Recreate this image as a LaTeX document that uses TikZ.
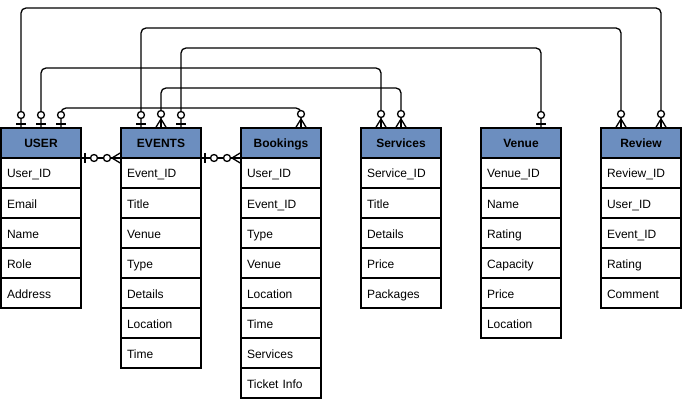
\documentclass[tikz,border=0pt]{standalone}
\usepackage{fontspec}
\setmainfont{Liberation Sans}
\usetikzlibrary{calc}
\definecolor{headblue}{RGB}{108,142,191}

\tikzset{
  head/.style={draw, line width=1.6pt, fill=headblue, minimum width=80pt,
    minimum height=30pt, outer sep=0pt, text height=10pt, text depth=0pt,
    font=\fontsize{12}{14}\selectfont\bfseries},
  field/.style={draw, line width=1.6pt, fill=white, text width=68pt,
    inner xsep=6pt, minimum height=30pt, outer sep=0pt, align=left,
    text height=10pt, text depth=0pt, font=\fontsize{12}{14}\selectfont},
  link/.style={line width=1.3pt, rounded corners=5pt},
  % markers point outwards (up) from the table edge
  zeroone/.pic={
    \draw[line width=1.3pt] (-5,-4) -- (5,-4);
    \draw[line width=1.3pt, fill=white] (0,-13) circle (3.5pt);
  },
  zeromany/.pic={
    \draw[line width=1.3pt] (-5.5,0) -- (0,-9) -- (5.5,0);
    \draw[line width=1.3pt] (0,0) -- (0,-9);
    \draw[line width=1.3pt, fill=white] (0,-14) circle (3.5pt);
  }
}

\begin{document}
\begin{tikzpicture}[x=1pt, y=-1pt]
\useasboundingbox (0,0) rectangle (683,401);

% USER
\node[head] (user) at (41,143) {USER};
\node[field] (user1) at (41,173) {User\_ID};
\node[field] (user2) at (41,203) {Email};
\node[field] (user3) at (41,233) {Name};
\node[field] (user4) at (41,263) {Role};
\node[field] (user5) at (41,293) {Address};

% EVENTS
\node[head] (events) at (161,143) {EVENTS};
\node[field] (events1) at (161,173) {Event\_ID};
\node[field] (events2) at (161,203) {Title};
\node[field] (events3) at (161,233) {Venue};
\node[field] (events4) at (161,263) {Type};
\node[field] (events5) at (161,293) {Details};
\node[field] (events6) at (161,323) {Location};
\node[field] (events7) at (161,353) {Time};

% Bookings
\node[head] (book) at (281,143) {Bookings};
\node[field] (book1) at (281,173) {User\_ID};
\node[field] (book2) at (281,203) {Event\_ID};
\node[field] (book3) at (281,233) {Type};
\node[field] (book4) at (281,263) {Venue};
\node[field] (book5) at (281,293) {Location};
\node[field] (book6) at (281,323) {Time};
\node[field] (book7) at (281,353) {Services};
\node[field] (book8) at (281,383) {Ticket Info};

% Services
\node[head] (serv) at (401,143) {Services};
\node[field] (serv1) at (401,173) {Service\_ID};
\node[field] (serv2) at (401,203) {Title};
\node[field] (serv3) at (401,233) {Details};
\node[field] (serv4) at (401,263) {Price};
\node[field] (serv5) at (401,293) {Packages};

% Venue
\node[head] (venue) at (521,143) {Venue};
\node[field] (venue1) at (521,173) {Venue\_ID};
\node[field] (venue2) at (521,203) {Name};
\node[field] (venue3) at (521,233) {Rating};
\node[field] (venue4) at (521,263) {Capacity};
\node[field] (venue5) at (521,293) {Price};
\node[field] (venue6) at (521,323) {Location};

% Review
\node[head] (review) at (641,143) {Review};
\node[field] (review1) at (641,173) {Review\_ID};
\node[field] (review2) at (641,203) {User\_ID};
\node[field] (review3) at (641,233) {Event\_ID};
\node[field] (review4) at (641,263) {Rating};
\node[field] (review5) at (641,293) {Comment};

% relations over the top
\draw[link] ([xshift=-20pt]user.north) -- ++(0,-120) -| ([xshift=20pt]review.north);
\draw[link] ([xshift=-20pt]events.north) -- ++(0,-100) -| ([xshift=-20pt]review.north);
\draw[link] ([xshift=20pt]events.north) -- ++(0,-80) -| ([xshift=20pt]venue.north);
\draw[link] (user.north) -- ++(0,-60) -| ([xshift=-20pt]serv.north);
\draw[link] (events.north) -- ++(0,-40) -| (serv.north);
\draw[link] ([xshift=20pt]user.north) -- ++(0,-20) -| ([xshift=20pt]book.north);

% relations side by side
\draw[link] (user.south east) -- (events.south west);
\draw[link] (events.south east) -- (book.south west);

% ends
\pic at ([xshift=-20pt]user.north) {zeroone};
\pic at (user.north) {zeroone};
\pic at ([xshift=20pt]user.north) {zeroone};
\pic at ([xshift=-20pt]events.north) {zeroone};
\pic at (events.north) {zeromany};
\pic at ([xshift=20pt]events.north) {zeroone};
\pic at ([xshift=20pt]book.north) {zeromany};
\pic at ([xshift=-20pt]serv.north) {zeromany};
\pic at (serv.north) {zeromany};
\pic at ([xshift=20pt]venue.north) {zeroone};
\pic at ([xshift=-20pt]review.north) {zeromany};
\pic at ([xshift=20pt]review.north) {zeromany};
\pic[rotate=-90] at (user.south east) {zeroone};
\pic[rotate=90] at (events.south west) {zeromany};
\pic[rotate=-90] at (events.south east) {zeroone};
\pic[rotate=90] at (book.south west) {zeromany};
\end{tikzpicture}
\end{document}
